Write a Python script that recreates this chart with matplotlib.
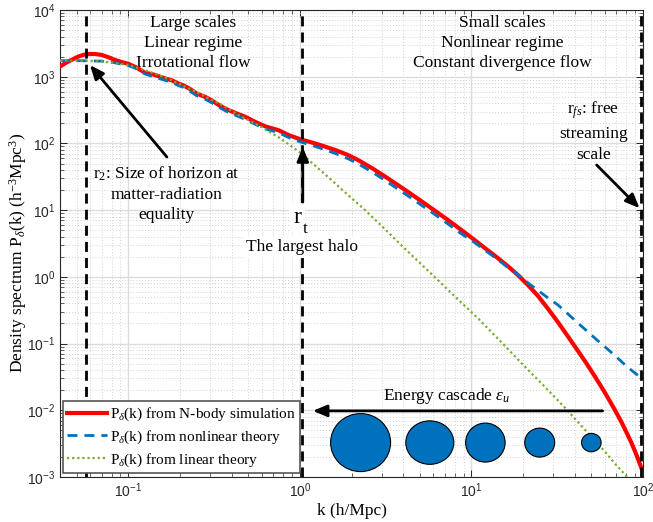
import numpy as np
import matplotlib
matplotlib.use("Agg")
import matplotlib.pyplot as plt
from matplotlib.patches import Ellipse
from matplotlib.ticker import LogLocator, FuncFormatter, NullFormatter

plt.rcParams["font.family"] = ["Liberation Serif", "DejaVu Serif"]
plt.rcParams["mathtext.fontset"] = "custom"
plt.rcParams["mathtext.rm"] = "Liberation Serif"
plt.rcParams["mathtext.it"] = "Liberation Serif:italic"
plt.rcParams["mathtext.bf"] = "Liberation Serif:bold"
plt.rcParams["mathtext.sf"] = "Liberation Sans"

# P(k) from N-body simulation
k_nbody = [0.04, 0.043, 0.047, 0.051, 0.055, 0.059, 0.064, 0.070, 0.077, 0.084,
           0.092, 0.10, 0.11, 0.125, 0.14, 0.16, 0.18, 0.195, 0.21, 0.23,
           0.25, 0.28, 0.305, 0.34, 0.38, 0.43, 0.48, 0.55, 0.63, 0.75,
           0.87, 1.0, 1.2, 1.37, 1.6, 1.91, 2.2, 2.67, 3.2, 3.74,
           4.4, 5.2, 6.2, 7.3, 8.6, 10.2, 12.0, 14.3, 16.5, 18.7,
           21.5, 24.4, 28.0, 31.9, 37.0, 42.0, 46.0, 51.0, 57.0, 62.0,
           68.0, 75.0, 80.0, 85.0, 90.0, 94.0, 97.5]
p_nbody = [1420, 1600, 1800, 2000, 2130, 2190, 2190, 2120, 1950, 1780,
           1650, 1560, 1400, 1150, 1080, 960, 880, 795, 740, 650,
           560, 500, 446, 370, 320, 280, 251, 210, 180, 158,
           132, 116, 101.7, 91.5, 80, 67, 55.8, 41.7, 30.9, 23.6,
           17.8, 13.2, 9.6, 7.1, 5.2, 3.73, 2.69, 1.9, 1.41, 1.06,
           0.74, 0.52, 0.33, 0.21, 0.122, 0.076, 0.054, 0.036, 0.0228, 0.0159,
           0.0105, 0.0066, 0.0047, 0.0034, 0.0024, 0.0018, 0.0014]

# P(k) from nonlinear theory
k_nonlin = [0.04, 0.05, 0.06, 0.07, 0.08, 0.09, 0.10, 0.11, 0.125, 0.14,
            0.16, 0.18, 0.195, 0.21, 0.23, 0.25, 0.28, 0.305, 0.34, 0.38,
            0.43, 0.48, 0.55, 0.63, 0.75, 0.87, 1.0, 1.2, 1.37, 1.6,
            1.91, 2.2, 2.67, 3.2, 3.74, 4.4, 5.2, 6.2, 7.3, 8.6,
            10.2, 12.0, 14.3, 16.5, 18.7, 21.5, 24.4, 28.0, 31.9, 37.0,
            42.0, 48.0, 54.6, 62.0, 70.0, 80.0, 90.0, 100.0]
p_nonlin = [1740, 1740, 1730, 1710, 1650, 1560, 1470, 1340, 1100, 1000,
            900, 820, 740, 690, 600, 520, 460, 410, 345, 295,
            258, 230, 193, 165, 145, 121, 106, 92, 82, 71,
            59, 49, 36.5, 27, 20.5, 15.5, 11.5, 8.4, 6.2, 4.55,
            3.4, 2.5, 1.8, 1.35, 1.08, 0.8, 0.63, 0.48, 0.38, 0.27,
            0.2, 0.148, 0.11, 0.083, 0.063, 0.046, 0.036, 0.029]

# P(k) from linear theory
k_lin = [0.04, 0.05, 0.06, 0.07, 0.084, 0.10, 0.125, 0.14, 0.16, 0.18,
         0.20, 0.25, 0.30, 0.35, 0.437, 0.50, 0.60, 0.748, 0.87, 1.02,
         1.2, 1.49, 1.8, 2.4, 3.0, 4.0, 5.6, 7.0, 8.5, 10.9,
         15.0, 20.0, 27.0, 35.0, 45.0, 60.0, 70.0, 81.0, 90.0]
p_lin = [1740, 1740, 1730, 1700, 1600, 1500, 1250, 1130, 1000, 880,
         770, 590, 460, 380, 268, 225, 175, 125, 95, 71,
         49, 30, 19.3, 10, 5.8, 2.8, 1.23, 0.71, 0.44, 0.24,
         0.104, 0.048, 0.022, 0.011, 0.0054, 0.0024, 0.0015, 0.001, 0.00073]

# characteristic scales (vertical markers)
k_scales = [0.057, 1.03, 98.0]

# eddies of the energy cascade
eddy_k = [2.26, 5.72, 12.06, 25.0, 50.0]
eddy_p = 0.00328
eddy_w = [60, 48, 39.5, 30, 19.6]  # pixels
eddy_h = [58, 43.5, 39, 29, 18.4]

BLUE = "#0072bd"
GREEN = "#77ac30"

fig = plt.figure(figsize=(6.53, 5.22), dpi=100)
ax = fig.add_axes([60 / 653, 1 - 477 / 522, 583 / 653, 467 / 522])
ax.set_xscale("log")
ax.set_yscale("log")
ax.set_xlim(0.04, 100)
ax.set_ylim(1e-3, 1e4)

ax.plot(k_nbody, p_nbody, color="red", lw=3, zorder=4,
        label=r"P$_\delta$(k) from N-body simulation")
ax.plot(k_nonlin, p_nonlin, color=BLUE, lw=2, ls=(0, (3.6, 2.5)), zorder=4,
        label=r"P$_\delta$(k) from nonlinear theory")
ax.plot(k_lin, p_lin, color=GREEN, lw=1.6, ls=(0, (1, 1.3)), zorder=4,
        label=r"P$_\delta$(k) from linear theory")

for k in k_scales:
    ax.axvline(k, color="k", lw=2.0, ls=(0, (3.6, 2.2)), zorder=5)

# grid / ticks in MATLAB look
ax.xaxis.set_minor_locator(LogLocator(base=10, subs=np.arange(2, 10), numticks=20))
ax.yaxis.set_minor_locator(LogLocator(base=10, subs=np.arange(2, 10), numticks=20))
ax.xaxis.set_minor_formatter(NullFormatter())
ax.yaxis.set_minor_formatter(NullFormatter())
fmt = FuncFormatter(lambda v, pos: r"$\mathsf{10^{%d}}$" % round(np.log10(v)))
ax.xaxis.set_major_formatter(fmt)
ax.yaxis.set_major_formatter(fmt)
ax.tick_params(which="both", direction="in", top=True, right=True,
               colors="#262626", labelsize=10)
ax.tick_params(which="major", length=5, width=0.7)
ax.tick_params(which="minor", length=3, width=0.5)
ax.grid(True, which="major", color="#dcdcdc", lw=1.0, ls="-")
ax.grid(True, which="minor", color="#d2d2d2", lw=0.7, ls=(0, (1, 2)))
ax.set_axisbelow(True)
for s in ax.spines.values():
    s.set_color("#262626")
    s.set_linewidth(0.8)

ax.set_xlabel("k (h/Mpc)", fontsize=12.5, labelpad=2)
ax.set_ylabel(r"Density spectrum P$_\delta$(k) (h$^{-3}$Mpc$^3$)", fontsize=12.5)
ax.yaxis.set_label_coords(-0.053, 0.48)

# annotations
fs = 12.5
ax.text(0.228, 0.929, "Large scales\nLinear regime\nIrrotational flow",
        transform=ax.transAxes, ha="center", va="center", fontsize=fs,
        linespacing=1.33)
ax.text(0.758, 0.929, "Small scales\nNonlinear regime\nConstant divergence flow",
        transform=ax.transAxes, ha="center", va="center", fontsize=fs,
        linespacing=1.33)
ax.text(0.183, 0.606, "r$_2$: Size of horizon at\nmatter-radiation\nequality",
        transform=ax.transAxes, ha="center", va="center", fontsize=fs,
        linespacing=1.35)
ax.text(0.915, 0.741, "r$_{fs}$: free\nstreaming\nscale",
        transform=ax.transAxes, ha="center", va="center", fontsize=fs,
        linespacing=1.4)

# r_t label sits on a white patch that hides the dashed line
white = dict(facecolor="white", edgecolor="none", pad=1.5)
ax.text(0.407, 0.544, "r", transform=ax.transAxes, ha="center", va="baseline",
        fontsize=17, bbox=dict(facecolor="white", edgecolor="none", pad=3),
        zorder=6)
ax.text(0.420, 0.522, "t", transform=ax.transAxes, ha="center",
        va="baseline", fontsize=12.5, bbox=white, zorder=6)
ax.text(0.415, 0.483, "The largest halo", transform=ax.transAxes,
        ha="center", va="baseline", fontsize=fs, bbox=white, zorder=6)
ax.text(0.663, 0.165, r"Energy cascade $\varepsilon_u$", transform=ax.transAxes,
        ha="center", va="baseline", fontsize=fs)

arrow = dict(arrowstyle="-|>,head_length=0.6,head_width=0.25", color="k",
             lw=2, mutation_scale=14, shrinkA=0, shrinkB=0)
ax.annotate("", xy=(0.0598, 1496), xytext=(0.168, 62.5), arrowprops=arrow, zorder=6)
ax.annotate("", xy=(1.04, 88), xytext=(1.04, 13.2), arrowprops=arrow, zorder=6)
ax.annotate("", xy=(95.5, 10.7), xytext=(53.7, 47.5), arrowprops=arrow, zorder=6)
ax.annotate("", xy=(1.19, 0.0098), xytext=(58.2, 0.0098), arrowprops=arrow, zorder=6)

# eddies: centres through the data transform, sizes in pixels
to_axes = ax.transAxes.inverted()
for k, w, h in zip(eddy_k, eddy_w, eddy_h):
    cx, cy = to_axes.transform(ax.transData.transform((k, eddy_p)))
    ax.add_patch(Ellipse((cx, cy), w / 583, h / 467, transform=ax.transAxes,
                         facecolor=BLUE, edgecolor="k", lw=0.8, zorder=6))

leg = ax.legend(loc="lower left", bbox_to_anchor=(0.005, 0.008), borderaxespad=0,
                fontsize=11, handlelength=2.6, handletextpad=0.2,
                borderpad=0.3, labelspacing=0.35, fancybox=False, framealpha=1)
leg.get_frame().set_edgecolor("#555555")
leg.get_frame().set_linewidth(1.2)
leg.set_zorder(7)

fig.savefig("out.png", dpi=100)
